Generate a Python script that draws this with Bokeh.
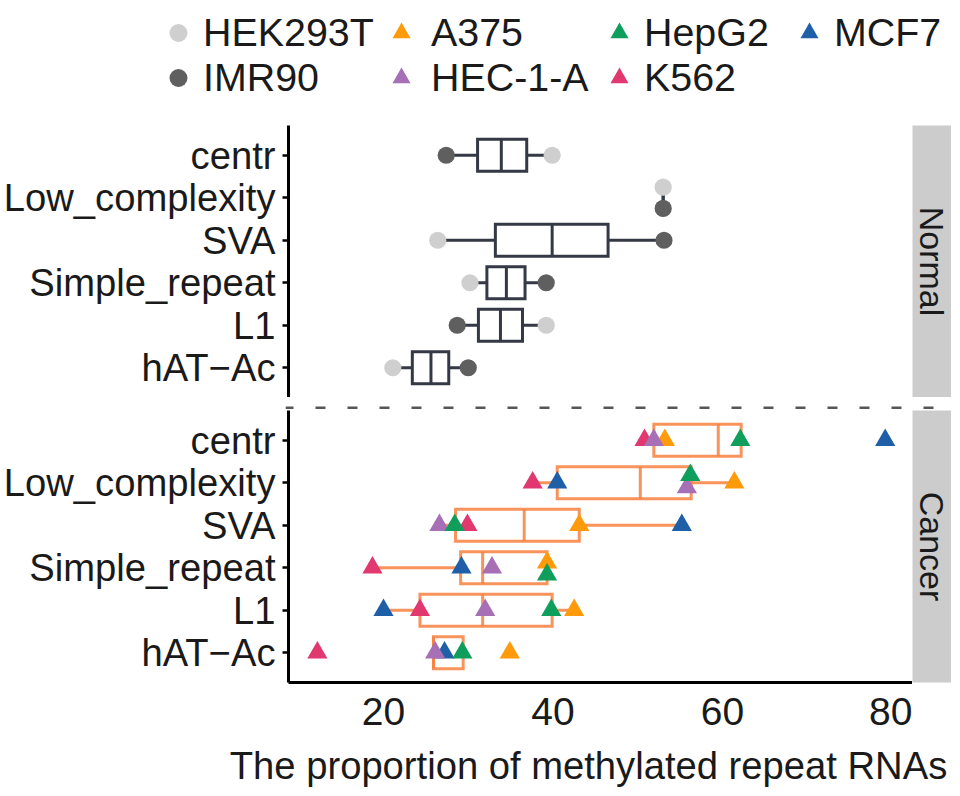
import math
from bokeh.plotting import figure
from bokeh.models import (ColumnDataSource, FactorRange, Range1d, FixedTicker,
                          Legend, LegendItem, Span, Label)
from bokeh.layouts import column, row
from bokeh.embed import file_html
from bokeh.resources import INLINE

# ---------------- data ----------------
repeats = ["centr", "Low_complexity", "SVA", "Simple_repeat", "L1", "hAT\u2212Ac"]
x_ticks = [20, 40, 60, 80]
x_title = "The proportion of methylated repeat RNAs"
panel_names = ["Normal", "Cancer"]

normal_lines = ["HEK293T", "IMR90"]
normal_colors = ["#CFCFCF", "#5F5F5F"]
hek293t = [39.9, 53.0, 26.4, 30.2, 39.2, 21.1]
imr90 = [27.4, 53.0, 53.1, 39.2, 28.7, 30.0]
hek293t_dodge = [0.0, 0.25, 0.0, 0.0, 0.0, 0.0]
imr90_dodge = [0.0, -0.25, 0.0, 0.0, 0.0, 0.0]

normal_q1 = [31.1, 53.0, 33.2, 32.2, 31.2, 23.4]
normal_median = [33.9, 53.0, 39.9, 34.5, 33.8, 25.6]
normal_q3 = [36.9, 53.0, 46.5, 36.7, 36.4, 27.7]
normal_lower = [27.4, 53.0, 26.4, 30.2, 28.7, 21.1]
normal_upper = [39.9, 53.0, 53.1, 39.2, 39.2, 30.0]

cancer_lines = ["MCF7", "A375", "K562", "HEC-1-A", "HepG2"]
cancer_colors = ["#1F5FA8", "#FF9A0A", "#E0386F", "#A66FB6", "#0F9E5B"]
mcf7 = [79.2, 40.5, 55.2, 29.2, 20.0, 27.2]
a375 = [53.2, 61.4, 43.1, 39.3, 42.5, 34.9]
k562 = [50.8, 37.6, 29.9, 18.7, 24.3, 12.2]
hec1a = [51.9, 55.8, 26.6, 32.8, 32.0, 26.1]
hepg2 = [62.1, 56.2, 28.4, 39.3, 39.8, 29.3]
mcf7_dodge = [0.0, 0.0, 0.0, 0.0, 0.0, 0.0]
a375_dodge = [0.0, 0.0, 0.0, 0.12, 0.0, 0.0]
k562_dodge = [0.0, 0.0, 0.0, 0.0, 0.0, 0.0]
hec1a_dodge = [0.0, -0.11, 0.0, 0.0, 0.0, 0.0]
hepg2_dodge = [0.0, 0.18, 0.0, -0.16, 0.0, 0.0]

cancer_q1 = [51.9, 40.5, 28.5, 29.1, 24.3, 25.9]
cancer_median = [59.5, 50.3, 36.6, 31.7, 31.7, 25.9]
cancer_q3 = [62.2, 56.3, 43.1, 39.3, 39.9, 29.4]
cancer_lower = [50.8, 37.6, 26.6, 18.7, 20.0, 25.9]
cancer_upper = [62.2, 61.4, 55.2, 39.3, 42.5, 29.4]

legend_columns = [["HEK293T", "IMR90"], ["A375", "HEC-1-A"], ["HepG2", "K562"], ["MCF7"]]

# ---------------- styling ----------------
FONT = "Liberation Sans"
TXT = "#1A1A1A"
FS_Y = "38.2px"
FS_X = "39px"
FS_LEG = "39.4px"
FS_STRIP = "34px"
FS_TITLE = "38.2px"
LEFT = 285            # room for the y tick labels
FRAME_W = 627
STRIP_W = 39
FULL_W = LEFT + FRAME_W + STRIP_W
x_range = Range1d(8.79, 82.42)

values_by_line = {"HEK293T": hek293t, "IMR90": imr90, "MCF7": mcf7, "A375": a375,
                  "K562": k562, "HEC-1-A": hec1a, "HepG2": hepg2}
marker_by_line = {n: "circle" for n in normal_lines}
marker_by_line.update({n: "triangle" for n in cancer_lines})
color_by_line = dict(zip(normal_lines + cancer_lines, normal_colors + cancer_colors))


def bare_figure(width, height, **kw):
    f = figure(width=width, height=height, x_range=Range1d(0, 1), y_range=Range1d(0, 1),
               output_backend="svg", toolbar_location=None,
               x_axis_location=None, y_axis_location=None, **kw)
    f.outline_line_color = None
    f.grid.visible = False
    return f


def make_panel(height, top, bottom, show_x):
    p = figure(width=LEFT + FRAME_W, height=height, x_range=x_range,
               y_range=FactorRange(factors=repeats[::-1], range_padding=0.2,
                                   range_padding_units="absolute"),
               output_backend="svg", toolbar_location=None,
               min_border_left=LEFT, min_border_right=0,
               min_border_top=top, min_border_bottom=bottom,
               x_axis_location="below" if show_x else None)
    p.outline_line_color = None
    p.grid.visible = False
    ya = p.yaxis[0]
    ya.axis_line_width = 3
    ya.axis_line_color = "black"
    ya.major_tick_out = 6
    ya.major_tick_in = 0
    ya.major_tick_line_width = 2.5
    ya.major_tick_line_color = "black"
    ya.major_label_standoff = 7
    ya.major_label_text_font = FONT
    ya.major_label_text_font_size = FS_Y
    ya.major_label_text_color = TXT
    if show_x:
        xa = p.xaxis[0]
        xa.ticker = FixedTicker(ticks=x_ticks)
        xa.axis_line_width = 3
        xa.axis_line_color = "black"
        xa.major_tick_out = 0
        xa.major_tick_in = 0
        xa.minor_tick_out = 0
        xa.minor_tick_in = 0
        xa.major_label_standoff = 15
        xa.major_label_text_font = FONT
        xa.major_label_text_font_size = FS_X
        xa.major_label_text_color = TXT
    return p


def draw_boxes(p, q1, med, q3, lo, hi, color, alpha, width):
    src = ColumnDataSource(dict(rep=repeats, q1=q1, med=med, q3=q3, lo=lo, hi=hi))
    kw = dict(source=src, line_color=color, line_alpha=alpha, line_width=width)
    p.segment(x0="lo", y0="rep", x1="q1", y1="rep", **kw)
    p.segment(x0="q3", y0="rep", x1="hi", y1="rep", **kw)
    p.hbar(y="rep", left="q1", right="q3", height=0.75, fill_color=None,
           line_join="miter", **kw)
    p.hbar(y="rep", left="med", right="med", height=0.75, fill_color=None, **kw)


def draw_points(p, name, dodge, size):
    src = ColumnDataSource(dict(x=values_by_line[name],
                                y=[[r, float(d)] for r, d in zip(repeats, dodge)]))
    p.scatter(x="x", y="y", source=src, marker=marker_by_line[name], size=size,
              fill_color=color_by_line[name], line_color=None)


def make_strip(height, top, bottom, text):
    s = bare_figure(STRIP_W, height, min_border_left=0, min_border_right=0,
                    min_border_top=top, min_border_bottom=bottom)
    s.background_fill_color = "#CCCCCC"
    s.add_layout(Label(x=0.5, y=0.5, text=text, angle=-math.pi / 2,
                       text_align="center", text_baseline="middle",
                       text_font=FONT, text_font_size=FS_STRIP, text_color=TXT))
    return s


# ---------------- legend figure ----------------
LG_H = 103
ITEM_H = 45
lg = bare_figure(FULL_W, LG_H, min_border=0)
# key renderers: the same values, lying outside this figure's 0..1 ranges
keys = {}
for name in normal_lines + cancer_lines:
    keys[name] = lg.scatter(x=values_by_line[name], y=values_by_line[name],
                            marker=marker_by_line[name],
                            fill_color=color_by_line[name], line_color=None)

col_left = [153, 376, 594, 784]
col_standoff = [-5, 5, -5, -8]
for names, x0, so in zip(legend_columns, col_left, col_standoff):
    h = ITEM_H * len(names)
    leg = Legend(items=[LegendItem(label=n, renderers=[keys[n]]) for n in names],
                 location=(x0, LG_H - 10 - h), orientation="vertical",
                 padding=0, margin=0, spacing=0, glyph_width=50, glyph_height=ITEM_H,
                 label_standoff=so, label_text_font=FONT, label_text_font_size=FS_LEG,
                 label_text_color=TXT, border_line_color=None,
                 background_fill_alpha=0)
    lg.add_layout(leg)

# ---------------- normal panel ----------------
N_H = 294
pn = make_panel(N_H, 22, 0, False)
draw_boxes(pn, normal_q1, normal_median, normal_q3, normal_lower, normal_upper,
           "#343945", 1.0, 3)
draw_points(pn, "HEK293T", hek293t_dodge, 17.2)
draw_points(pn, "IMR90", imr90_dodge, 17.2)
sn = make_strip(N_H, 22, 0, panel_names[0])

# ---------------- separator ----------------
sep = figure(width=FULL_W, height=12, x_range=Range1d(0, 1), y_range=Range1d(0, 12),
             output_backend="svg", toolbar_location=None,
             min_border_left=LEFT, min_border_right=0, min_border_top=0, min_border_bottom=0,
             x_axis_location=None, y_axis_location=None)
sep.outline_line_color = None
sep.grid.visible = False
sep.add_layout(Span(location=1.5, dimension="width", line_color="#555555",
                    line_width=3, line_dash="10 22", line_dash_offset=2))

# ---------------- cancer panel ----------------
C_H = 334
pc = make_panel(C_H, 1, 61, True)
draw_boxes(pc, cancer_q1, cancer_median, cancer_q3, cancer_lower, cancer_upper,
           "#F7803F", 0.85, 3)
for name, dg in zip(cancer_lines, [mcf7_dodge, a375_dodge, k562_dodge, hec1a_dodge, hepg2_dodge]):
    draw_points(pc, name, dg, 20.2)
sc = make_strip(C_H, 1, 61, panel_names[1])

# ---------------- x axis title ----------------
TF_H = 44
TF_W = 952
tf = bare_figure(TF_W, TF_H, min_border=0)
tf.add_layout(Label(x=588, y=22, x_units="screen", y_units="screen", text=x_title,
                    text_align="center", text_baseline="middle",
                    text_font=FONT, text_font_size=FS_TITLE, text_color=TXT))

layout = column(row(lg), row(pn, sn), sep, row(pc, sc), row(tf))
open("out.html", "w").write(file_html(layout, INLINE, title="methylated repeat RNAs"))
